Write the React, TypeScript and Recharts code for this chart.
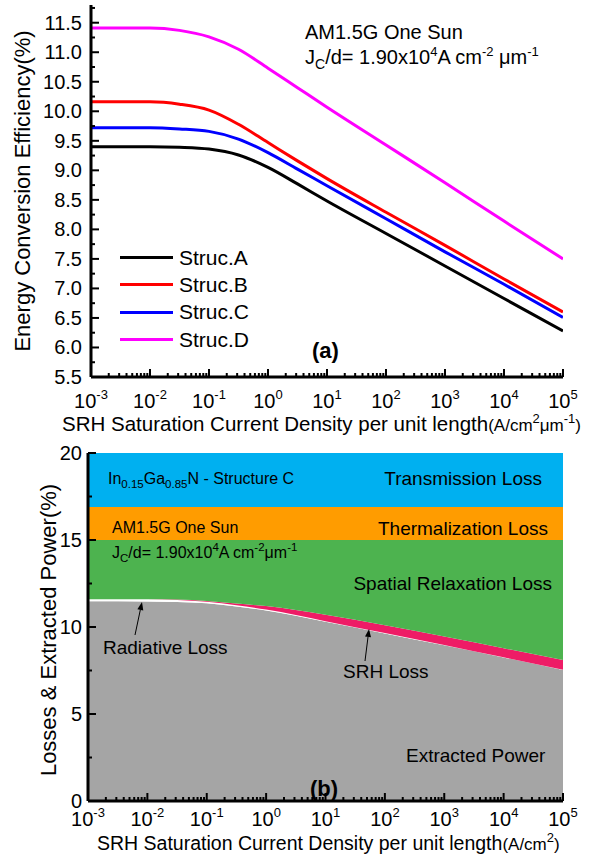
import React from "react";
import {
  LineChart,
  Line,
  AreaChart,
  Area,
  XAxis,
  YAxis,
  Legend,
} from "recharts";

const FONT = '"Liberation Sans", Arial, Helvetica, sans-serif';

// x positions: SRH saturation current density (log axis)
const xValues = [0.001, 0.01, 0.0316, 0.1, 0.316, 1, 3.16, 10, 100, 1000, 10000, 100000];

// (a) energy conversion efficiency (%)
const strucA = [9.4, 9.4, 9.39, 9.36, 9.26, 9.05, 8.77, 8.48, 7.93, 7.38, 6.83, 6.28];
const strucB = [10.16, 10.16, 10.12, 10.02, 9.78, 9.47, 9.16, 8.86, 8.29, 7.73, 7.16, 6.6];
const strucC = [9.72, 9.72, 9.7, 9.66, 9.53, 9.3, 9.02, 8.74, 8.18, 7.62, 7.07, 6.51];
const strucD = [11.41, 11.41, 11.37, 11.26, 11.05, 10.73, 10.4, 10.07, 9.43, 8.79, 8.14, 7.5];

// (b) losses & extracted power (%), stacked from the bottom
const extracted = [11.48, 11.47, 11.44, 11.36, 11.18, 10.95, 10.65, 10.3, 9.63, 8.95, 8.25, 7.53];
const radiative = [0.12, 0.12, 0.11, 0.09, 0.07, 0.05, 0.04, 0.03, 0.02, 0.02, 0.01, 0.01];
const srhLoss = [0, 0.01, 0.03, 0.05, 0.1, 0.2, 0.29, 0.37, 0.45, 0.48, 0.52, 0.56];
const spatial = [3.4, 3.4, 3.42, 3.5, 3.65, 3.8, 4.02, 4.3, 4.9, 5.55, 6.22, 6.9];
const thermal = [1.9, 1.9, 1.9, 1.9, 1.9, 1.9, 1.9, 1.9, 1.9, 1.9, 1.9, 1.9];
const transmission = [3.1, 3.1, 3.1, 3.1, 3.1, 3.1, 3.1, 3.1, 3.1, 3.1, 3.1, 3.1];

const topData = xValues.map((x, i) => ({
  x,
  A: strucA[i],
  B: strucB[i],
  C: strucC[i],
  D: strucD[i],
}));

const bottomData = xValues.map((x, i) => ({
  x,
  ext: extracted[i],
  rad: radiative[i],
  srh: srhLoss[i],
  spa: spatial[i],
  the: thermal[i],
  tra: transmission[i],
}));

// ticks: decades with minor 2..9 in between
const xTicks: number[] = [];
for (let e = -3; e < 5; e++) {
  for (let m = 1; m <= 9; m++) xTicks.push(Number((m * Math.pow(10, e)).toPrecision(3)));
}
xTicks.push(100000);

const topYTicks: number[] = [];
for (let k = 22; k <= 47; k++) topYTicks.push(k / 4);
const bottomYTicks = [0, 2.5, 5, 7.5, 10, 12.5, 15, 17.5, 20];

const X_DOMAIN = [0.001, 100000];

const isDecade = (v: number) => {
  const l = Math.log10(v);
  return Math.abs(l - Math.round(l)) < 1e-6;
};

const LogTick = (props: any) => {
  const { x, y, payload, labelOffset } = props;
  const v = payload.value;
  const major = isDecade(v);
  const e = Math.round(Math.log10(v));
  return (
    <g>
      <line x1={x} x2={x} y1={y} y2={y - (major ? 8 : 4)} stroke="#000" strokeWidth={2} />
      {major && (
        <text x={x} y={y + labelOffset} textAnchor="middle" fontSize={20} fontFamily={FONT} fill="#000">
          10
          <tspan dy={-9} fontSize={13}>
            {e}
          </tspan>
        </text>
      )}
    </g>
  );
};

const ValueTick = (props: any) => {
  const { x, y, payload, step, digits, gap } = props;
  const v = payload.value;
  const major = Math.abs(v / step - Math.round(v / step)) < 1e-6;
  return (
    <g>
      <line x1={x} x2={x + (major ? 8 : 4)} y1={y} y2={y} stroke="#000" strokeWidth={2} />
      {major && (
        <text x={x - gap} y={y + 7} textAnchor="end" fontSize={20} fontFamily={FONT} fill="#000">
          {v.toFixed(digits)}
        </text>
      )}
    </g>
  );
};

const renderLegend = (props: any) => (
  <div style={{ fontFamily: FONT }}>
    {(props.payload || []).map((entry: any) => (
      <div key={entry.value} style={{ display: "flex", alignItems: "center", height: 27.3 }}>
        <span style={{ display: "inline-block", width: 53, height: 3, background: entry.color }} />
        <span style={{ marginLeft: 6, fontSize: 21, color: "#000" }}>{entry.value}</span>
      </div>
    ))}
  </div>
);

const Arrow = ({ x1, y1, x2, y2 }: { x1: number; y1: number; x2: number; y2: number }) => {
  const a = Math.atan2(y2 - y1, x2 - x1);
  const len = 8;
  const w = 3;
  const bx = x2 - len * Math.cos(a);
  const by = y2 - len * Math.sin(a);
  const px = -Math.sin(a) * w;
  const py = Math.cos(a) * w;
  return (
    <g>
      <line x1={x1} y1={y1} x2={bx} y2={by} stroke="#000" strokeWidth={1} />
      <polygon points={`${x2},${y2} ${bx + px},${by + py} ${bx - px},${by - py}`} fill="#000" />
    </g>
  );
};

const frame = { stroke: "#000", strokeWidth: 3 };

export default function App() {
  return (
    <div
      style={{
        position: "absolute",
        left: 0,
        top: 0,
        width: 589,
        height: 855,
        background: "#fff",
        fontFamily: FONT,
      }}
    >
      <div style={{ position: "absolute", left: 0, top: 0 }}>
        <LineChart width={589} height={440} data={topData} margin={{ top: 5, right: 26, left: 0, bottom: 0 }}>
          <XAxis
            dataKey="x"
            type="number"
            scale="log"
            domain={X_DOMAIN}
            allowDataOverflow
            ticks={xTicks}
            interval={0}
            tickSize={0}
            tickMargin={0}
            tickLine={false}
            axisLine={frame}
            height={63}
            tick={(p: any) => <LogTick {...p} labelOffset={31} />}
          />
          <XAxis
            xAxisId="top"
            orientation="top"
            type="number"
            scale="log"
            domain={X_DOMAIN}
            allowDataOverflow
            height={0}
            tick={false}
            tickLine={false}
            axisLine={frame}
          />
          <YAxis
            type="number"
            domain={[5.5, 11.8]}
            allowDataOverflow
            ticks={topYTicks}
            interval={0}
            tickSize={0}
            tickMargin={0}
            tickLine={false}
            axisLine={frame}
            width={91}
            tick={(p: any) => <ValueTick {...p} step={0.5} digits={1} gap={9} />}
          />
          <YAxis
            yAxisId="right"
            orientation="right"
            type="number"
            domain={[5.5, 11.8]}
            allowDataOverflow
            width={0}
            tick={false}
            tickLine={false}
            axisLine={frame}
          />
          <Legend
            layout="vertical"
            align="center"
            verticalAlign="middle"
            content={renderLegend}
            wrapperStyle={{ left: 120, top: 244, width: 200, height: 110 }}
          />
          <Line type="monotone" dataKey="A" name="Struc.A" stroke="#000000" strokeWidth={3} dot={false} isAnimationActive={false} />
          <Line type="monotone" dataKey="B" name="Struc.B" stroke="#ff0000" strokeWidth={3} dot={false} isAnimationActive={false} />
          <Line type="monotone" dataKey="C" name="Struc.C" stroke="#0000ff" strokeWidth={3} dot={false} isAnimationActive={false} />
          <Line type="monotone" dataKey="D" name="Struc.D" stroke="#ff00ff" strokeWidth={3} dot={false} isAnimationActive={false} />
        </LineChart>
      </div>

      <div style={{ position: "absolute", left: 0, top: 440 }}>
        <AreaChart width={589} height={415} data={bottomData} margin={{ top: 13, right: 26, left: 0, bottom: 0 }}>
          <Area type="monotone" dataKey="ext" stackId="1" stroke="none" fill="#a5a5a5" fillOpacity={1} isAnimationActive={false} />
          <Area type="monotone" dataKey="rad" stackId="1" stroke="none" fill="#ffffff" fillOpacity={1} isAnimationActive={false} />
          <Area type="monotone" dataKey="srh" stackId="1" stroke="none" fill="#ee1c66" fillOpacity={1} isAnimationActive={false} />
          <Area type="monotone" dataKey="spa" stackId="1" stroke="none" fill="#4db34f" fillOpacity={1} isAnimationActive={false} />
          <Area type="monotone" dataKey="the" stackId="1" stroke="none" fill="#ff9c00" fillOpacity={1} isAnimationActive={false} />
          <Area type="monotone" dataKey="tra" stackId="1" stroke="none" fill="#00b0f0" fillOpacity={1} isAnimationActive={false} />
          <XAxis
            dataKey="x"
            type="number"
            scale="log"
            domain={X_DOMAIN}
            allowDataOverflow
            ticks={xTicks}
            interval={0}
            tickSize={0}
            tickMargin={0}
            tickLine={false}
            axisLine={frame}
            height={54}
            tick={(p: any) => <LogTick {...p} labelOffset={25} />}
          />
          <XAxis
            xAxisId="top"
            orientation="top"
            type="number"
            scale="log"
            domain={X_DOMAIN}
            allowDataOverflow
            height={0}
            tick={false}
            tickLine={false}
            axisLine={{ stroke: "#222", strokeWidth: 2 }}
          />
          <YAxis
            type="number"
            domain={[0, 20]}
            allowDataOverflow
            ticks={bottomYTicks}
            interval={0}
            tickSize={0}
            tickMargin={0}
            tickLine={false}
            axisLine={frame}
            width={88}
            tick={(p: any) => <ValueTick {...p} step={5} digits={0} gap={6} />}
          />
          <YAxis
            yAxisId="right"
            orientation="right"
            type="number"
            domain={[0, 20]}
            allowDataOverflow
            width={0}
            tick={false}
            tickLine={false}
            axisLine={{ stroke: "#222", strokeWidth: 2 }}
          />
        </AreaChart>
      </div>

      <svg
        width={589}
        height={855}
        style={{ position: "absolute", left: 0, top: 0, pointerEvents: "none" }}
        fontFamily={FONT}
        fill="#000"
      >
        {/* panel (a) */}
        <text x={305} y={39} fontSize={20}>AM1.5G One Sun</text>
        <text x={305} y={64} fontSize={20}>
          J<tspan dy={5} fontSize={14}>C</tspan>
          <tspan dy={-5}>/d= 1.90x10</tspan>
          <tspan dy={-8} fontSize={13}>4</tspan>
          <tspan dy={8}>A cm</tspan>
          <tspan dy={-8} fontSize={13}>-2</tspan>
          <tspan dy={8}> μm</tspan>
          <tspan dy={-8} fontSize={13}>-1</tspan>
        </text>
        <text x={312} y={358} fontSize={22} fontWeight="bold">(a)</text>
        <text transform="translate(30,191) rotate(-90)" textAnchor="middle" fontSize={22}>
          Energy Conversion Efficiency(%)
        </text>
        <text x={62} y={431} fontSize={20.5}>
          SRH Saturation Current Density per unit length
          <tspan fontSize={17}>(A/cm</tspan>
          <tspan dy={-8} fontSize={13}>2</tspan>
          <tspan dy={8} fontSize={17}>μm</tspan>
          <tspan dy={-8} fontSize={13}>-1</tspan>
          <tspan dy={8} fontSize={17}>)</tspan>
        </text>

        {/* panel (b) */}
        <text x={108} y={484} fontSize={16}>
          In<tspan dy={4} fontSize={11.5}>0.15</tspan>
          <tspan dy={-4}>Ga</tspan>
          <tspan dy={4} fontSize={11.5}>0.85</tspan>
          <tspan dy={-4}>N - Structure C</tspan>
        </text>
        <text x={542} y={485} fontSize={19} textAnchor="end">Transmission Loss</text>
        <text x={112} y={533} fontSize={16}>AM1.5G One Sun</text>
        <text x={548} y={535} fontSize={19} textAnchor="end">Thermalization Loss</text>
        <text x={112} y={558} fontSize={16}>
          J<tspan dy={4} fontSize={11.5}>C</tspan>
          <tspan dy={-4}>/d= 1.90x10</tspan>
          <tspan dy={-7} fontSize={11.5}>4</tspan>
          <tspan dy={7}>A cm</tspan>
          <tspan dy={-7} fontSize={11.5}>-2</tspan>
          <tspan dy={7}>μm</tspan>
          <tspan dy={-7} fontSize={11.5}>-1</tspan>
        </text>
        <text x={552} y={590} fontSize={19} textAnchor="end">Spatial Relaxation Loss</text>
        <text x={103} y={654} fontSize={19}>Radiative Loss</text>
        <Arrow x1={135} y1={635} x2={142} y2={602} />
        <text x={343} y={678} fontSize={19}>SRH Loss</text>
        <Arrow x1={365} y1={661} x2={369} y2={629} />
        <text x={406} y={762} fontSize={19}>Extracted Power</text>
        <text x={310} y={796} fontSize={22} fontWeight="bold">(b)</text>
        <text transform="translate(56,630) rotate(-90)" textAnchor="middle" fontSize={22}>
          Losses &amp; Extracted Power(%)
        </text>
        <text x={97} y={850} fontSize={19.5}>
          SRH Saturation Current Density per unit length
          <tspan fontSize={17}>(A/cm</tspan>
          <tspan dy={-8} fontSize={13}>2</tspan>
          <tspan dy={8} fontSize={17}>)</tspan>
        </text>
      </svg>
    </div>
  );
}
